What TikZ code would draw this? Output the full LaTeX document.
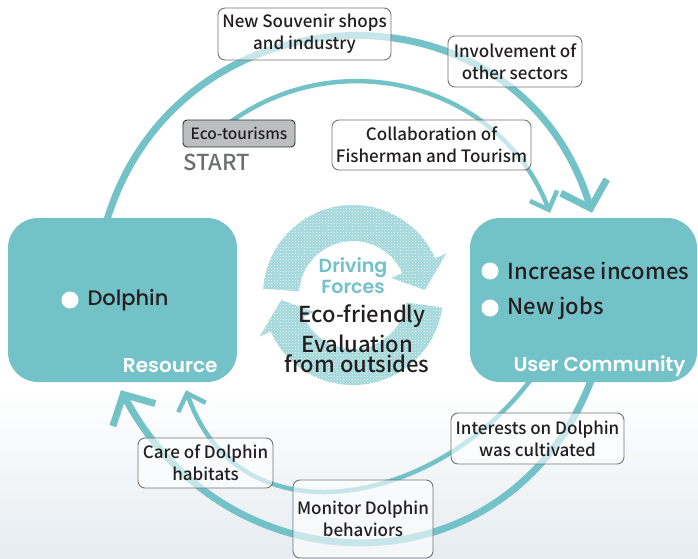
\documentclass[tikz,border=0pt]{standalone}
\usepackage{fontspec}
\setmainfont{Noto Sans CJK JP}[UprightFont=* Medium]
\newfontfamily\geofont{Poppins}[UprightFont=* Medium, BoldFont=* SemiBold]
\usetikzlibrary{arrows.meta,patterns,backgrounds}
\definecolor{sea}{HTML}{72C2C8}
\definecolor{cloud}{HTML}{E6ECF1}
\definecolor{startgray}{HTML}{6D6E71}
\definecolor{tagfill}{HTML}{BCBEC0}
\definecolor{ink}{HTML}{231F20}
\tikzset{
  stage/.style={fill=sea, rounded corners=30pt, minimum width=229pt, minimum height=164pt},
  note/.style={draw=black!55, line width=0.9pt, rounded corners=7pt, fill=white, fill opacity=0.6,
    text opacity=1, align=center, text=ink, font=\fontsize{17}{22}\selectfont, inner sep=4pt},
  dot/.style={circle, fill=white, minimum size=17pt, inner sep=0pt},
  bigflow/.style={sea, line width=7pt, -{Straight Barb[length=23pt,width=48pt]}},
  smallflow/.style={sea, line width=4.5pt, -{Straight Barb[length=15pt,width=29pt]}},
  ring/.style={fill=sea!68, postaction={pattern=crosshatch dots, pattern color=white}},
}
\begin{document}
\begin{tikzpicture}[x=1pt,y=1pt]
  \useasboundingbox (0,0) rectangle (698,-558);
  \node [stage] (res) at (122.5,-300) {};
  \node [stage, minimum width=227pt] (usr) at (583.5,-300) {};
  \node [dot] (b1) at (70,-300) {};
  \node [anchor=west, text=ink, font=\geofont\fontsize{21}{22}\selectfont] (dol) at (84,-300) {Dolphin};
  \node [dot] (b2) at (490,-271) {};
  \node [dot] (b3) at (490,-308) {};
  \node [anchor=west, text=ink, font=\fontsize{22}{24}\selectfont] (inc) at (504,-271) {Increase incomes};
  \node [anchor=west, text=ink, font=\fontsize{22}{24}\selectfont] (job) at (504,-308) {New jobs};
  \node [anchor=east, text=white, font=\geofont\bfseries\fontsize{20}{22}\selectfont] (restag) at (221,-366) {Resource};
  \node [anchor=east, text=white, font=\geofont\bfseries\fontsize{20}{22}\selectfont] (usrtag) at (689,-366) {User Community};
  \node [draw=black!80, fill=tagfill, rounded corners=4pt, line width=0.9pt, minimum width=112pt,
    minimum height=27pt, inner sep=2pt, text=ink, font=\fontsize{15.5}{17}\selectfont] (eco) at (239,-133.5) {Eco-tourisms};
  \node [anchor=west, inner sep=0pt, text=startgray, font=\fontsize{22}{24}\selectfont] (start) at (183,-162) {START};
  \begin{scope}[on background layer]
    \fill [white] (0,0) rectangle (698,-558);
    \fill [top color=white, bottom color=cloud] (0,-390) rectangle (698,-558);
    \draw [bigflow] ([xshift=-17pt,yshift=-7pt]res.north) to [out=74,in=107,looseness=1.33] ([xshift=8.5pt,yshift=5pt]usr.north);
    \draw [smallflow] ([xshift=-12pt,yshift=-5pt]eco.north) to [out=37,in=111,looseness=1.06] ([xshift=-33.5pt,yshift=5pt]usr.north);
    \draw [bigflow] ([xshift=9.5pt,yshift=7pt]usr.south) to [out=250,in=-62,looseness=1.26] ([xshift=-1.5pt,yshift=-8pt]res.south);
    \draw [smallflow] ([xshift=-49.5pt,yshift=7pt]usr.south) to [out=234,in=-71,looseness=1.2] ([xshift=63.5pt,yshift=-8pt]res.south);
  \end{scope}
  \node [note, minimum width=173pt, minimum height=52pt] (souv) at (304.5,-34) {New Souvenir shops\\and industry};
  \node [note, minimum width=134pt, minimum height=51pt] (invol) at (515,-61.5) {Involvement of\\other sectors};
  \node [note, minimum width=197pt, minimum height=50pt] (collab) at (431.5,-145) {Collaboration of\\Fisherman and Tourism};
  \node [note, minimum width=173pt, minimum height=51pt] (inter) at (537.5,-438.5) {Interests on Dolphin\\was cultivated};
  \node [note, minimum width=135pt, minimum height=50pt] (care) at (205.5,-463) {Care of Dolphin\\habitats};
  \node [note, minimum width=140pt, minimum height=78pt] (moni) at (363,-519) {Monitor Dolphin\\behaviors};
  \begin{scope}[shift={(353,-295)}]
    \path [ring] (176:90) arc [start angle=176, end angle=24, radius=90] -- (24:102) -- (4:72) -- (24:42)
      -- (24:54) arc [start angle=24, end angle=176, radius=54] -- cycle;
    \path [ring] (352:90) arc [start angle=352, end angle=204, radius=90] -- (204:102) -- (184:72) -- (204:42)
      -- (204:54) arc [start angle=204, end angle=352, radius=54] -- cycle;
  \end{scope}
  \node [align=center, text=sea, font=\geofont\bfseries\fontsize{19}{21}\selectfont] (drive) at (353,-276) {Driving\\Forces};
  \node [text=ink, font=\fontsize{22}{22}\selectfont] (ecof) at (362,-316) {Eco-friendly};
  \node [align=center, text=ink, font=\fontsize{22}{20}\selectfont] (eval) at (357,-353.5) {Evaluation\\from outsides};
\end{tikzpicture}
\end{document}
